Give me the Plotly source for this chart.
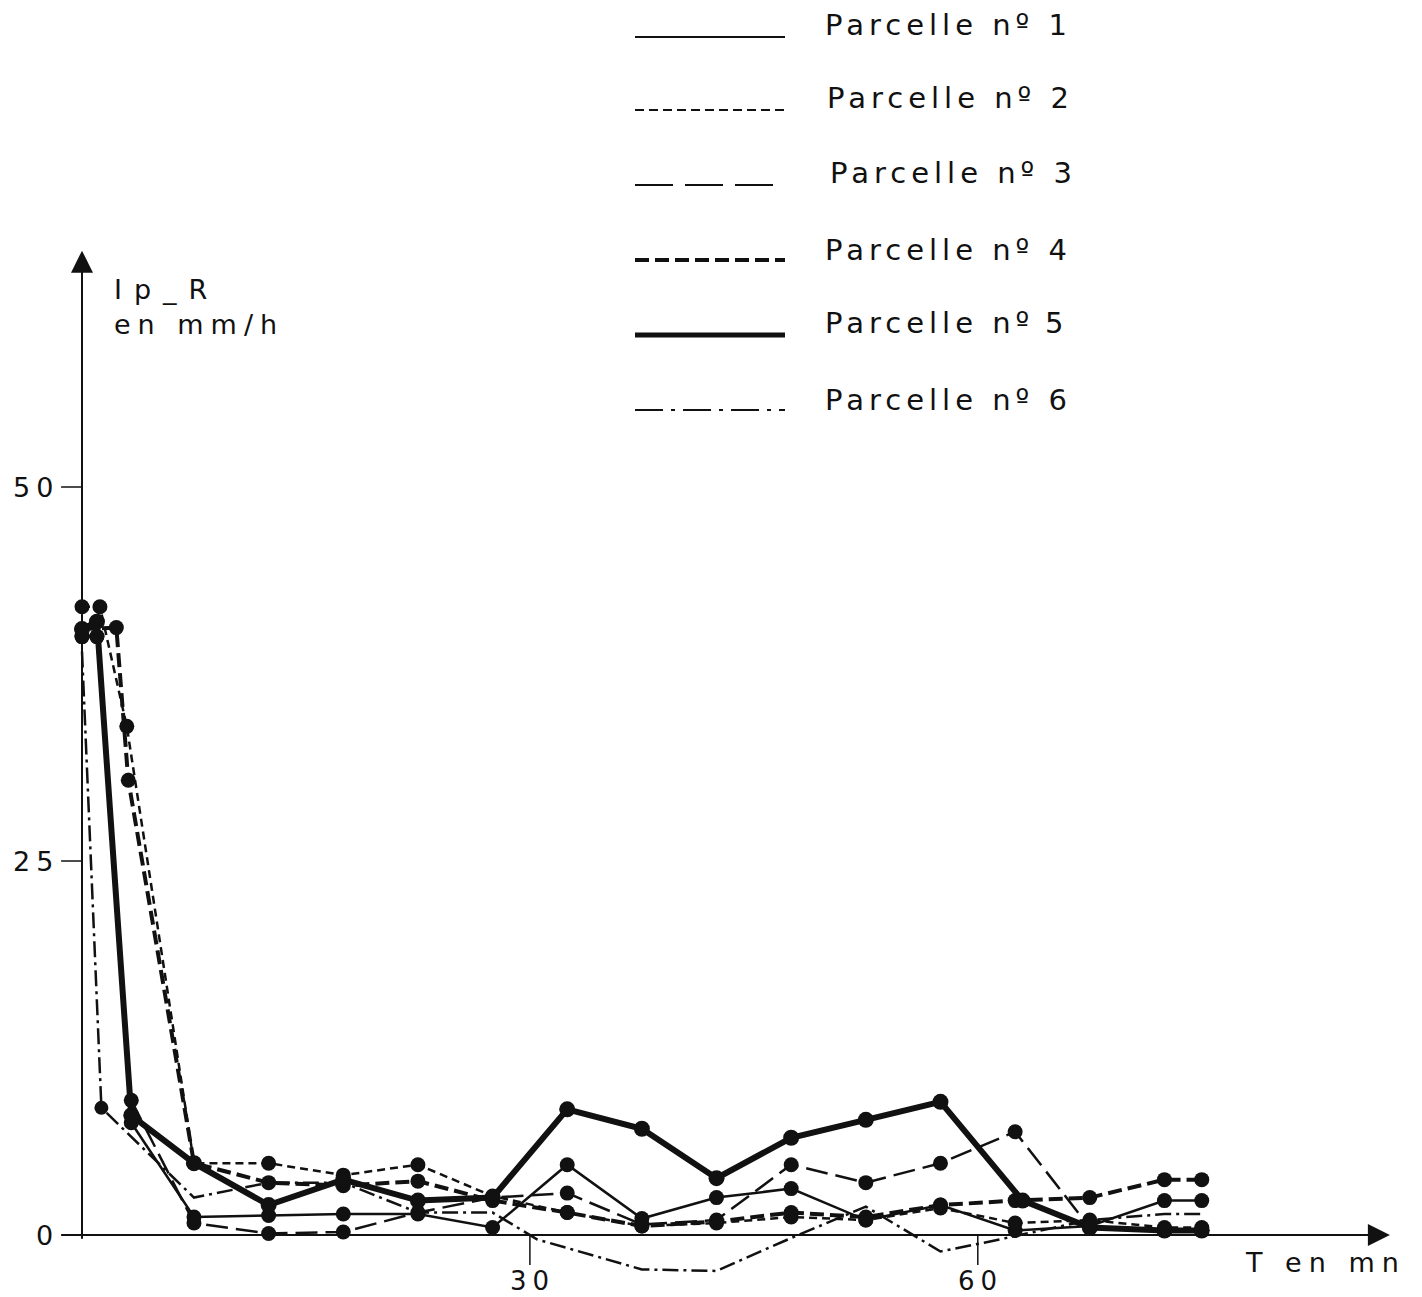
import plotly.graph_objects as go

# ---------------- data ----------------
series_names = ["Parcelle nº 1", "Parcelle nº 2", "Parcelle nº 3",
                "Parcelle nº 4", "Parcelle nº\u20095", "Parcelle nº 6"]

t1 = [0, 1, 3.3, 7.5, 12.5, 17.5, 22.5, 27.5, 32.5, 37.5, 42.5, 47.5, 52.5, 57.5, 62.5, 67.5, 72.5, 75]
p1 = [40, 40, 7.5, 1.2, 1.3, 1.4, 1.4, 0.5, 4.7, 1.1, 2.5, 3.1, 1.0, 2.0, 0.3, 0.6, 2.3, 2.3]

t2 = [0, 1.2, 3.0, 7.5, 12.5, 17.5, 22.5, 27.5, 32.5, 37.5, 42.5, 47.5, 52.5, 57.5, 62.5, 67.5, 72.5, 75]
p2 = [42, 42, 34, 4.8, 4.8, 4.0, 4.7, 2.6, 1.5, 0.6, 0.8, 1.2, 1.0, 1.8, 0.8, 1.0, 0.5, 0.5]

t3 = [0, 1, 3.3, 7.5, 12.5, 17.5, 22.5, 27.5, 32.5, 37.5, 42.5, 47.5, 52.5, 57.5, 62.5, 67.5, 72.5, 75]
p3 = [40, 40, 9.0, 0.8, 0.1, 0.2, 1.5, 2.5, 2.8, 0.7, 1.0, 4.7, 3.5, 4.8, 6.9, 0.5, 0.3, 0.3]

t4 = [0, 2.3, 3.1, 7.5, 12.5, 17.5, 22.5, 27.5, 32.5, 37.5, 42.5, 47.5, 52.5, 57.5, 62.5, 67.5, 72.5, 75]
p4 = [40.5, 40.6, 30.4, 4.8, 3.5, 3.3, 3.6, 2.3, 1.5, 0.6, 0.9, 1.5, 1.2, 2.0, 2.3, 2.5, 3.7, 3.7]

t5 = [0, 1, 3.3, 7.5, 12.5, 17.5, 22.5, 27.5, 32.5, 37.5, 42.5, 47.5, 52.5, 57.5, 63, 67.5, 72.5, 75]
p5 = [40.5, 41, 8.0, 4.8, 2.0, 3.7, 2.3, 2.5, 8.4, 7.1, 3.8, 6.5, 7.7, 8.9, 2.3, 0.5, 0.3, 0.3]

t6 = [0, 1.3, 7.5, 12.5, 17.5, 22.5, 27.5, 30.5, 37.5, 42.5, 47.5, 52.5, 57.5, 60.5, 67.5, 72.5, 75]
p6 = [39, 8.5, 2.5, 3.5, 3.5, 1.5, 1.5, -0.3, -2.3, -2.4, -0.2, 1.9, -1.1, -0.5, 1.0, 1.4, 1.4]

y_ticks = [0, 25, 50]
y_tick_labels = ["0", "25", "50"]
x_ticks = [30, 60]
x_tick_labels = ["30", "60"]

# ---------------- styles ----------------
W, H = 1422, 1297
OFF = 8  # page body margin of the browser
FONT = "DejaVu Sans"
INK = "#111111"


def px(xp):
    return (xp - OFF) / W


def py(yp):
    return 1 - (yp - OFF) / H


def spaced(s, sp):
    return '<span style="letter-spacing:%dpx">%s</span>' % (sp, s)


styles = [
    dict(width=2.5, dash="solid", msize=15),
    dict(width=2.5, dash="8px,5px", msize=15),
    dict(width=2.5, dash="22px,8px", msize=15),
    dict(width=4, dash="14px,6px", msize=15),
    dict(width=6, dash="solid", msize=16),
    dict(width=2.5, dash="16px,5px,3px,5px", msize=0),
]

fig = go.Figure()
all_t = [t1, t2, t3, t4, t5, t6]
all_p = [p1, p2, p3, p4, p5, p6]
for i, (tt, pp) in enumerate(zip(all_t, all_p)):
    st = styles[i]
    if i == 5:
        sizes = [0] * len(tt)
        sizes[1] = 14
    else:
        sizes = [st["msize"]] * len(tt)
    fig.add_trace(go.Scatter(
        x=tt, y=pp, mode="lines+markers", name=series_names[i],
        line=dict(color=INK, width=st["width"], dash=st["dash"]),
        marker=dict(color=INK, size=sizes, opacity=1, line=dict(width=0)),
        opacity=1, showlegend=False, cliponaxis=False,
    ))

# pixel <-> data mapping (plot area = whole page)
X0PX, XUNIT = 82 - OFF, 14.93
Y0PX, YUNIT = 1235 - OFF, 14.96
x_range = [-X0PX / XUNIT, (W - X0PX) / XUNIT]
y_range = [(Y0PX - H) / YUNIT, Y0PX / YUNIT]

annotations = []
shapes = []

# y axis with arrow
annotations.append(dict(x=0, y=65.8, ax=0, ay=-0.35, xref="x", yref="y", axref="x", ayref="y",
                        text="", showarrow=True, arrowhead=2, arrowsize=2.2, arrowwidth=2,
                        arrowcolor=INK))
# x axis with arrow
annotations.append(dict(x=87.6, y=0, ax=-1.5, ay=0, xref="x", yref="y", axref="x", ayref="y",
                        text="", showarrow=True, arrowhead=2, arrowsize=2.2, arrowwidth=2,
                        arrowcolor=INK))

for v, lab in zip(y_ticks, y_tick_labels):
    if v != 0:
        shapes.append(dict(type="line", xref="x", yref="y", x0=-1.4, x1=0, y0=v, y1=v,
                           line=dict(color=INK, width=1.5)))
    annotations.append(dict(x=-1.4, y=v, xref="x", yref="y", text=spaced(lab, 6), showarrow=False,
                            xanchor="right", yanchor="middle",
                            font=dict(family=FONT, size=27, color=INK)))
for v, lab in zip(x_ticks, x_tick_labels):
    shapes.append(dict(type="line", xref="x", yref="y", x0=v, x1=v, y0=0, y1=-2.0,
                       line=dict(color=INK, width=1.5)))
    annotations.append(dict(x=v + 0.2, y=-1.95, xref="x", yref="y", text=spaced(lab, 6), showarrow=False,
                            xanchor="center", yanchor="top",
                            font=dict(family=FONT, size=26, color=INK)))

# axis titles
annotations.append(dict(x=px(112), y=py(272), xref="paper", yref="paper",
                        text=spaced("Ip_R", 12) + "<br>" + spaced("en mm/h", 7), showarrow=False,
                        align="left", xanchor="left", yanchor="top",
                        font=dict(family=FONT, size=27, color=INK)))
annotations.append(dict(x=px(1243), y=py(1262), xref="paper", yref="paper",
                        text=spaced("T en mn", 7), showarrow=False, xanchor="left", yanchor="middle",
                        font=dict(family=FONT, size=27, color=INK)))

# legend (drawn as layout shapes + text)
leg_line_y = [37, 110, 185, 260, 335, 410]
leg_text_y = [25, 98, 173, 250, 323, 400]
leg_text_x = [823, 825, 828, 823, 823, 823]
leg_dash = ["solid", "9px,5px", "38px,12px", "14px,6px", "solid", "28px,8px,4px,8px"]
leg_width = [2, 2, 2, 4, 5, 2]
for i in range(6):
    yy = py(leg_line_y[i])
    shapes.append(dict(type="line", xref="paper", yref="paper",
                       x0=px(635), x1=px(785), y0=yy, y1=yy,
                       line=dict(color=INK, width=leg_width[i], dash=leg_dash[i])))
    annotations.append(dict(x=px(leg_text_x[i]), y=py(leg_text_y[i]), xref="paper", yref="paper",
                            text=spaced(series_names[i], 5), showarrow=False,
                            xanchor="left", yanchor="middle",
                            font=dict(family=FONT, size=29, color=INK)))

fig.update_layout(
    width=W, height=H,
    margin=dict(l=0, r=0, t=0, b=0),
    paper_bgcolor="white", plot_bgcolor="white",
    xaxis=dict(range=x_range, visible=False, fixedrange=True),
    yaxis=dict(range=y_range, visible=False, fixedrange=True),
    shapes=shapes, annotations=annotations,
    showlegend=False,
)

fig.write_html("out.html")
